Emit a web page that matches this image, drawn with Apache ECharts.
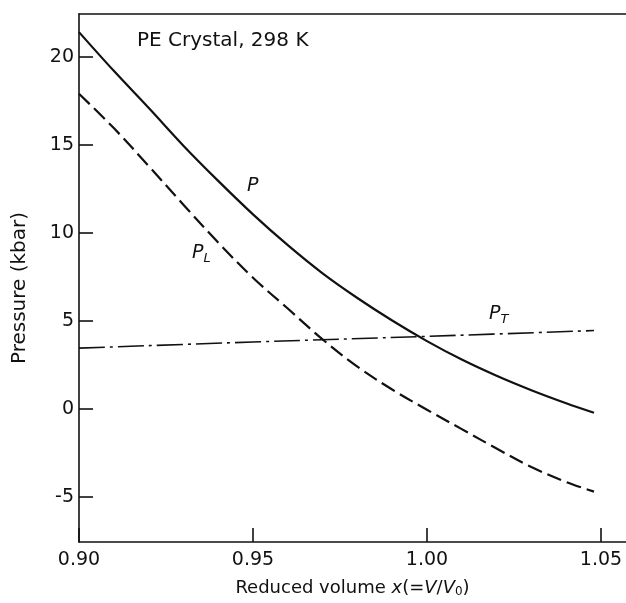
<!DOCTYPE html>
<html>
<head>
<meta charset="utf-8">
<script src="https://cdn.jsdelivr.net/npm/echarts@6/dist/echarts.min.js"></script>
<style>
  html, body { margin: 0; padding: 0; background: #fff; }
  #chart { width: 626px; height: 603px; }
</style>
</head>
<body>
<div id="chart"></div>
<script>
// Reduced volume x = V/V0
const volume = [0.90, 0.91, 0.92, 0.93, 0.94, 0.95, 0.96, 0.97,
                0.98, 0.99, 1.00, 1.01, 1.02, 1.03, 1.04, 1.048];

// Total pressure P (kbar)
const pressureTotal = [21.4, 19.2, 17.1, 14.95, 12.95, 11.05, 9.3, 7.7,
                       6.3, 5.02, 3.85, 2.8, 1.88, 1.06, 0.32, -0.22];

// Longitudinal component P_L (kbar)
const pressureLong = [17.9, 15.95, 13.8, 11.6, 9.45, 7.45, 5.7, 3.95,
                      2.4, 1.1, -0.05, -1.15, -2.25, -3.3, -4.15, -4.7];

// Transverse component P_T (kbar)
const volumeT = [0.90, 0.95, 1.00, 1.048];
const pressureTrans = [3.45, 3.8, 4.12, 4.45];

// Tick values
const xTicks = [0.90, 0.95, 1.00, 1.05];
const yTicks = [-5, 0, 5, 10, 15, 20];

const pairs = (xs, ys) => xs.map((x, i) => [x, ys[i]]);

const FONT = 'DejaVu Sans';
const INK = '#111';

const chart = echarts.init(document.getElementById('chart'), null, { renderer: 'canvas' });

chart.setOption({
  backgroundColor: '#fff',
  animation: false,
  grid: { left: 79, right: 0, top: 14, bottom: 61 },
  xAxis: [{
    type: 'value',
    position: 'bottom',
    min: 0.9,
    max: 1.0572,
    axisLine: { show: true, onZero: false, lineStyle: { color: INK, width: 1.6 } },
    axisTick: { show: true, inside: true, length: 14, customValues: xTicks, lineStyle: { color: INK, width: 1.6 } },
    axisLabel: {
      customValues: xTicks, margin: 9, color: INK, fontFamily: FONT, fontSize: 19,
      formatter: v => v.toFixed(2)
    },
    splitLine: { show: false },
    name: 'Reduced volume {i|x}(={i|V}/{i|V}{s|0})',
    nameLocation: 'middle',
    nameGap: 36,
    nameTextStyle: {
      color: INK, fontFamily: FONT, fontSize: 18,
      rich: {
        i: { fontStyle: 'italic', fontFamily: FONT, fontSize: 18, color: INK },
        s: { fontFamily: FONT, fontSize: 12, color: INK, verticalAlign: 'bottom', padding: [8, 0, 0, 0] }
      }
    }
  }, {
    type: 'value',
    position: 'top',
    min: 0.9,
    max: 1.0572,
    axisLine: { show: true, onZero: false, lineStyle: { color: INK, width: 1.6 } },
    axisTick: { show: false },
    axisLabel: { show: false },
    splitLine: { show: false }
  }],
  yAxis: {
    type: 'value',
    min: -7.56,
    max: 22.43,
    axisLine: { show: true, onZero: false, lineStyle: { color: INK, width: 1.6 } },
    axisTick: { show: true, inside: true, length: 14, customValues: yTicks, lineStyle: { color: INK, width: 1.6 } },
    axisLabel: { customValues: yTicks, margin: 5, color: INK, fontFamily: FONT, fontSize: 19 },
    splitLine: { show: false },
    name: 'Pressure (kbar)',
    nameLocation: 'middle',
    nameGap: 49,
    nameTextStyle: { color: INK, fontFamily: FONT, fontSize: 20, padding: [0, 20, 0, 0] }
  },
  series: [{
    name: 'P',
    type: 'line',
    data: pairs(volume, pressureTotal),
    smooth: 0.35,
    showSymbol: false,
    lineStyle: { color: INK, width: 2.2, type: 'solid' }
  }, {
    name: 'P_L',
    type: 'line',
    data: pairs(volume, pressureLong),
    smooth: 0.35,
    showSymbol: false,
    lineStyle: { color: INK, width: 2.2, type: [15, 6] }
  }, {
    name: 'P_T',
    type: 'line',
    data: pairs(volumeT, pressureTrans),
    smooth: 0.35,
    showSymbol: false,
    lineStyle: { color: INK, width: 1.6, type: [26, 5, 3, 5] }
  }],
  graphic: [{
    type: 'text', left: 137, top: 31,
    style: { text: 'PE Crystal, 298 K', font: '20px "DejaVu Sans"', fill: INK }
  }, {
    type: 'text', left: 247, top: 177,
    style: { text: 'P', font: 'italic 19px "DejaVu Sans"', fill: INK }
  }, {
    type: 'text', left: 192, top: 244,
    style: {
      text: '{p|P}{s|L}', fill: INK,
      rich: {
        p: { font: 'italic 19px "DejaVu Sans"', fill: INK },
        s: { font: 'italic 13px "DejaVu Sans"', fill: INK, padding: [10, 0, 0, 0] }
      }
    }
  }, {
    type: 'text', left: 489, top: 305,
    style: {
      text: '{p|P}{s|T}', fill: INK,
      rich: {
        p: { font: 'italic 19px "DejaVu Sans"', fill: INK },
        s: { font: 'italic 13px "DejaVu Sans"', fill: INK, padding: [10, 0, 0, 0] }
      }
    }
  }]
});
</script>
</body>
</html>
